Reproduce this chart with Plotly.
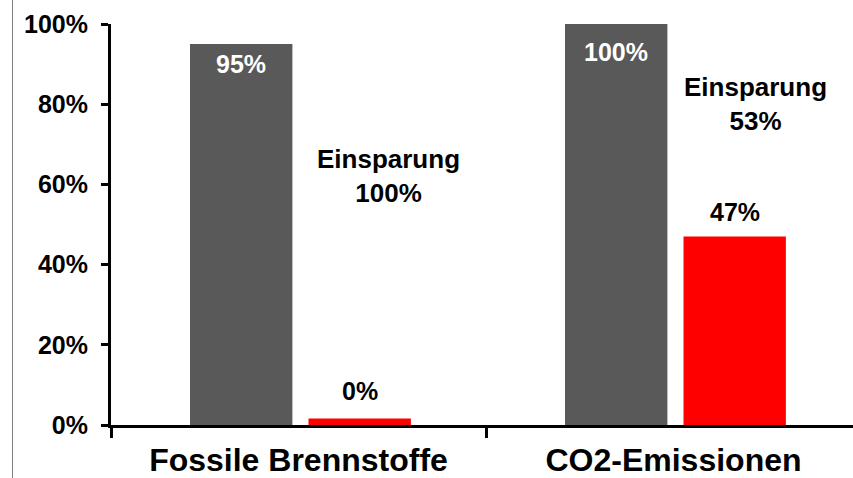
import plotly.graph_objects as go

# Data
categories = ["Fossile Brennstoffe", "CO2-Emissionen"]
vorher = [95, 100]          # dark grey bars
nachher = [0, 47]           # red bars
y_ticks = [0, 20, 40, 60, 80, 100]
y_labels = [f"{v}%" for v in y_ticks]

# savings relative to the grey bar
einsparung = [round((a - b) / a * 100) for a, b in zip(vorher, nachher)]

# Styling / geometry (category-axis units)
GREY = "#595959"
RED = "#FF0000"
FONT = "Arial, Liberation Sans, sans-serif"
BAR_W = 0.273
OFF_GREY = -0.2893
OFF_RED = 0.0267
ZERO_LINE = 13  # outline so a 0-value bar still shows as a thin stripe
PX_PER_UNIT = 375.0

red_line = [ZERO_LINE if v == 0 else 0 for v in nachher]

fig = go.Figure()
fig.add_trace(go.Bar(
    x=categories, y=vorher, width=BAR_W, offset=OFF_GREY,
    marker=dict(color=GREY, line=dict(width=0)),
    showlegend=False, hoverinfo="skip",
))
fig.add_trace(go.Bar(
    x=categories, y=nachher, width=BAR_W, offset=OFF_RED,
    marker=dict(color=RED, line=dict(color=RED, width=red_line)),
    showlegend=False, hoverinfo="skip",
))

# value labels
grey_shift = [-20, -28]
red_shift = [34, 25]
for i, v in enumerate(vorher):
    fig.add_annotation(
        x=i + OFF_GREY + BAR_W / 2, y=v, text=f"{v}%", showarrow=False,
        yanchor="middle", yshift=grey_shift[i],
        font=dict(family=FONT, size=25, color="white", weight="bold"),
    )
for i, v in enumerate(nachher):
    fig.add_annotation(
        x=i + OFF_RED + BAR_W / 2, y=v, text=f"{v}%", showarrow=False,
        yanchor="middle", yshift=red_shift[i],
        font=dict(family=FONT, size=25, color="black", weight="bold"),
    )

# savings labels
save_x = [0.241, 0.219]
save_y = [62.0, 80.0]
for i, s in enumerate(einsparung):
    fig.add_annotation(
        x=i + save_x[i], y=save_y[i], text=f"Einsparung<br>{s}%",
        showarrow=False, yanchor="middle", align="center",
        font=dict(family=FONT, size=26, color="black", weight="bold"),
    )

# thin frame line at the left edge
fig.add_shape(
    type="line", xref="paper", yref="paper",
    xsizemode="pixel", xanchor=0, x0=-98.5, x1=-98.5,
    ysizemode="pixel", yanchor=0, y0=-60, y1=440,
    line=dict(color="#808080", width=1),
)

fig.update_layout(
    width=853, height=478,
    margin=dict(l=111, r=0, t=24, b=52.5, autoexpand=False),
    plot_bgcolor="white", paper_bgcolor="white",
    barmode="overlay",
    font=dict(family=FONT, color="black"),
)
fig.update_xaxes(
    type="category", range=[-0.5, -0.5 + 742 / PX_PER_UNIT],
    automargin=False,
    showline=True, linecolor="black", linewidth=3,
    ticks="outside", tickson="boundaries", ticklen=10, tickwidth=3, tickcolor="black",
    ticklabelstandoff=5,
    tickfont=dict(family=FONT, size=32, color="black", weight="bold"),
    showgrid=False, zeroline=False,
)
fig.update_yaxes(
    range=[0, 100], tickmode="array", tickvals=y_ticks, ticktext=y_labels,
    automargin=False,
    showline=True, linecolor="black", linewidth=3,
    ticks="outside", ticklen=7, tickwidth=3, tickcolor="black",
    ticklabelstandoff=8,
    tickfont=dict(family=FONT, size=25, color="black", weight="bold"),
    showgrid=False, zeroline=False,
)

fig.write_html("out.html")
